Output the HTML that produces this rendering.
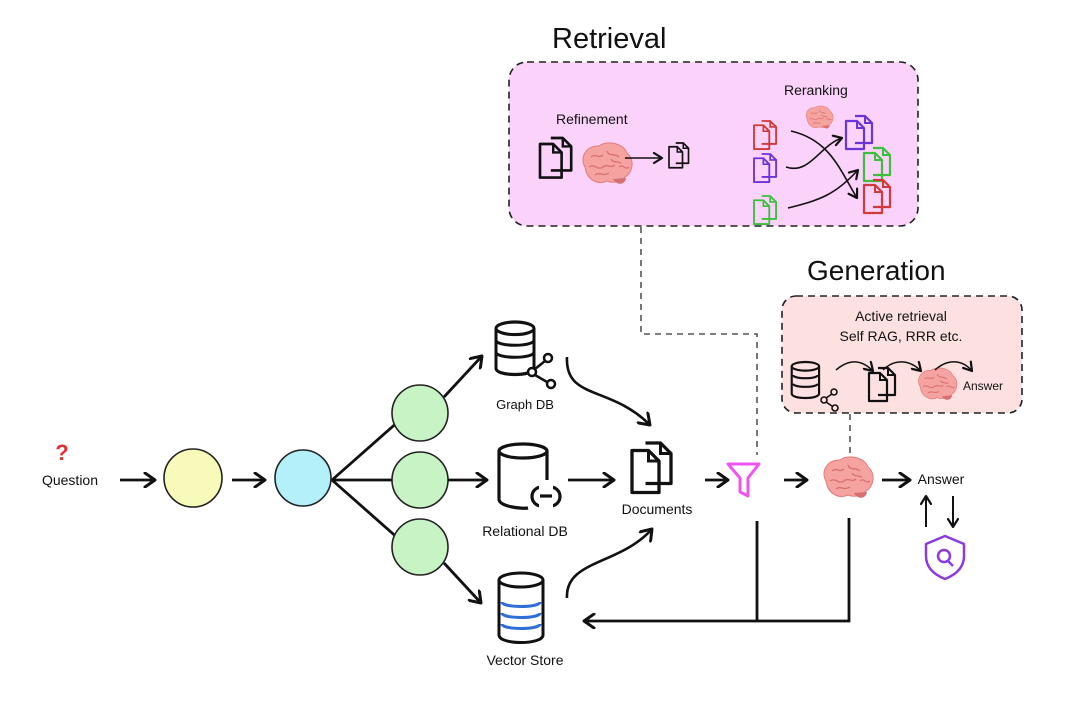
<!DOCTYPE html>
<html><head><meta charset="utf-8"><style>
html,body{margin:0;padding:0;background:#fff;}
svg{display:block;}
text{font-family:"Liberation Sans","DejaVu Sans",sans-serif;fill:#111;}
</style></head><body>
<svg width="1080" height="710" viewBox="0 0 1080 710" xmlns="http://www.w3.org/2000/svg">
<defs>
  <marker id="ah" viewBox="0 0 12 12" refX="10" refY="6" markerWidth="12" markerHeight="12" markerUnits="userSpaceOnUse" orient="auto">
    <path d="M2,1 L10,6 L2,11" fill="none" stroke="#111" stroke-width="2.2" stroke-linecap="round" stroke-linejoin="round"/>
  </marker>
  <marker id="ahb" viewBox="0 0 16 16" refX="13" refY="8" markerWidth="16" markerHeight="16" markerUnits="userSpaceOnUse" orient="auto">
    <path d="M3,1 L13,8 L3,15" fill="none" stroke="#111" stroke-width="3" stroke-linecap="round" stroke-linejoin="round"/>
  </marker>
  <g id="docs">
    <path d="M9,0 H19 L26,7 V27 H9" fill="none" stroke="currentColor" stroke-width="2.2" stroke-linejoin="round"/>
    <path d="M19,0 V7 H26" fill="none" stroke="currentColor" stroke-width="2"/>
    <path d="M0,5 H11 L18,12 V33 H0 Z" fill="none" stroke="currentColor" stroke-width="2.2" stroke-linejoin="round"/>
    <path d="M11,5 V12 H18" fill="none" stroke="currentColor" stroke-width="2"/>
  </g>
  <g id="brain">
    <path d="M4,24 C-2,14 6,2 18,3 C26,-3 42,0 46,10 C54,16 52,30 44,34 C40,40 30,40 26,38 C18,42 6,38 4,24 Z" fill="#f5a3a1" stroke="#e07d7b" stroke-width="1"/>
    <path d="M32,36 C36,43 44,42 45,35" fill="#d76f6e"/>
    <path d="M10,14 C14,10 18,16 22,12 M8,24 C14,20 16,28 22,24 C26,20 30,26 34,22 M26,8 C28,14 34,10 38,14 M14,32 C18,28 22,34 28,30 M38,24 C42,20 44,28 48,24 M30,16 C32,20 36,18 40,20" fill="none" stroke="#d8706f" stroke-width="1.3"/>
  </g>
  <g id="db">
    <ellipse cx="20" cy="6" rx="19" ry="6" fill="none" stroke="#111" stroke-width="3"/>
    <path d="M1,6 V44 C1,52 39,52 39,44 V6" fill="none" stroke="#111" stroke-width="3"/>
  </g>
</defs>

<!-- Retrieval -->
<text x="552" y="48" font-size="29">Retrieval</text>
<rect x="509" y="62" width="409" height="164" rx="18" fill="#fbd2f9" stroke="#222" stroke-width="1.6" stroke-dasharray="7,5"/>
<text x="556" y="124" font-size="14">Refinement</text>
<use href="#docs" x="540" y="138" color="#111" transform="translate(540,138) scale(1.2) translate(-540,-138)"/>
<use href="#brain" x="581" y="143"/>
<line x1="625" y1="158" x2="662" y2="158" stroke="#111" stroke-width="1.6" marker-end="url(#ah)"/>
<use href="#docs" x="669" y="143" color="#111" transform="translate(669,143) scale(0.75) translate(-669,-143)"/>
<text x="784" y="95" font-size="14">Reranking</text>
<use href="#brain" x="805" y="106" transform="translate(805,106) scale(0.55) translate(-805,-106)"/>
<use href="#docs" x="754" y="121" color="#d23a3a" transform="translate(754,121) scale(0.85) translate(-754,-121)"/>
<use href="#docs" x="754" y="154" color="#6a35d8" transform="translate(754,154) scale(0.85) translate(-754,-154)"/>
<use href="#docs" x="754" y="196" color="#3cbf3c" transform="translate(754,196) scale(0.85) translate(-754,-196)"/>
<use href="#docs" x="846" y="116" color="#6a35d8"/>
<use href="#docs" x="864" y="148" color="#3cbf3c"/>
<use href="#docs" x="864" y="180" color="#d23a3a"/>
<path d="M791,131 C830,140 840,170 857,198" fill="none" stroke="#111" stroke-width="1.6" marker-end="url(#ah)"/>
<path d="M786,167 C810,175 820,145 842,138" fill="none" stroke="#111" stroke-width="1.6" marker-end="url(#ah)"/>
<path d="M788,208 C820,200 835,195 858,170" fill="none" stroke="#111" stroke-width="1.6" marker-end="url(#ah)"/>

<!-- Generation -->
<text x="807" y="280" font-size="28">Generation</text>
<rect x="782" y="296" width="240" height="117" rx="14" fill="#fde1e1" stroke="#222" stroke-width="1.6" stroke-dasharray="7,5"/>
<text x="901" y="321" font-size="14" text-anchor="middle">Active retrieval</text>
<text x="901" y="341" font-size="14" text-anchor="middle">Self RAG, RRR etc.</text>
<g transform="translate(791,362) scale(0.72)">
  <use href="#db"/>
  <path d="M3,18 C3,24 37,24 37,18 M3,30 C3,36 37,36 37,30" fill="none" stroke="#111" stroke-width="3"/>
</g>
<circle cx="834" cy="392" r="3" fill="none" stroke="#111" stroke-width="1.6"/>
<circle cx="824" cy="400" r="3" fill="none" stroke="#111" stroke-width="1.6"/>
<circle cx="835" cy="408" r="3" fill="none" stroke="#111" stroke-width="1.6"/>
<path d="M832,394 L826,398 M826,402 L832,406" stroke="#111" stroke-width="1.6"/>
<use href="#docs" x="869" y="368" color="#111"/>
<use href="#brain" x="917" y="368" transform="translate(917,368) scale(0.78) translate(-917,-368)"/>
<text x="963" y="390" font-size="12">Answer</text>
<path d="M836,370 C850,358 862,360 873,371" fill="none" stroke="#111" stroke-width="1.5" marker-end="url(#ah)"/>
<path d="M883,370 C895,358 910,360 921,371" fill="none" stroke="#111" stroke-width="1.5" marker-end="url(#ah)"/>
<path d="M935,370 C948,358 963,360 972,371" fill="none" stroke="#111" stroke-width="1.5" marker-end="url(#ah)"/>

<!-- dashed connectors -->
<path d="M641,227 V334 H757 V455" fill="none" stroke="#555" stroke-width="1.6" stroke-dasharray="6,5"/>
<path d="M850,414 V458" fill="none" stroke="#555" stroke-width="1.6" stroke-dasharray="6,5"/>

<!-- Question -->
<text x="62" y="460" font-size="22" font-weight="bold" style="fill:#d33" text-anchor="middle">?</text>
<text x="70" y="485" font-size="14" text-anchor="middle">Question</text>
<line x1="120" y1="480" x2="155" y2="480" stroke="#111" stroke-width="2.8" marker-end="url(#ahb)"/>
<circle cx="193" cy="478" r="29" fill="#f7fab8" stroke="#222" stroke-width="1.6"/>
<line x1="232" y1="480" x2="265" y2="480" stroke="#111" stroke-width="2.8" marker-end="url(#ahb)"/>
<circle cx="303" cy="478" r="28" fill="#b3f0fa" stroke="#222" stroke-width="1.6"/>
<path d="M332,480 L400,420 M332,480 L392,480 M332,480 L400,540" stroke="#111" stroke-width="2.8"/>
<circle cx="420" cy="413" r="28" fill="#c8f3c5" stroke="#222" stroke-width="1.6"/>
<circle cx="420" cy="480" r="28" fill="#c8f3c5" stroke="#222" stroke-width="1.6"/>
<circle cx="420" cy="547" r="28" fill="#c8f3c5" stroke="#222" stroke-width="1.6"/>
<line x1="444" y1="397" x2="482" y2="356" stroke="#111" stroke-width="2.8" marker-end="url(#ahb)"/>
<line x1="448" y1="480" x2="487" y2="480" stroke="#111" stroke-width="2.8" marker-end="url(#ahb)"/>
<line x1="444" y1="563" x2="481" y2="603" stroke="#111" stroke-width="2.8" marker-end="url(#ahb)"/>

<!-- Graph DB -->
<g transform="translate(495,322)">
  <use href="#db" transform="scale(1,1.05)"/>
  <path d="M1,18 C1,25 39,25 39,18 M1,30 C1,37 39,37 39,30" fill="none" stroke="#111" stroke-width="3"/>
</g>
<circle cx="548" cy="358" r="4" fill="#fff" stroke="#111" stroke-width="2.5"/>
<circle cx="532" cy="372" r="4" fill="#fff" stroke="#111" stroke-width="2.5"/>
<circle cx="551" cy="384" r="4" fill="#fff" stroke="#111" stroke-width="2.5"/>
<path d="M545,361 L535,369 M535,375 L547,382" stroke="#111" stroke-width="2.5"/>
<text x="525" y="409" font-size="13" text-anchor="middle">Graph DB</text>

<!-- Relational DB -->
<g transform="translate(498,444)">
  <ellipse cx="25" cy="7" rx="24" ry="7" fill="none" stroke="#111" stroke-width="3.2"/>
  <path d="M1,7 V55 C1,63 25,65 30,64 M49,7 V36" fill="none" stroke="#111" stroke-width="3.2"/>
  <rect x="34" y="43" width="28" height="19" rx="9.5" fill="none" stroke="#111" stroke-width="3.2"/>
  <path d="M42,52 H54" stroke="#111" stroke-width="3.2"/>
  <rect x="41" y="40" width="14" height="6" fill="#fff"/>
  <rect x="41" y="59" width="14" height="6" fill="#fff"/>
</g>
<text x="525" y="536" font-size="14" text-anchor="middle">Relational DB</text>

<!-- Vector store -->
<g transform="translate(498,573)">
  <ellipse cx="23" cy="7" rx="22" ry="7" fill="none" stroke="#111" stroke-width="3"/>
  <path d="M1,7 V62 C1,72 45,72 45,62 V7" fill="none" stroke="#111" stroke-width="3"/>
  <path d="M4,29 C4,35 42,35 42,29 M4,40 C4,46 42,46 42,40 M4,51 C4,57 42,57 42,51" fill="none" stroke="#2f6fd6" stroke-width="3"/>
</g>
<text x="525" y="665" font-size="14" text-anchor="middle">Vector Store</text>

<!-- to documents -->
<path d="M567,357 C565,400 610,385 650,425" fill="none" stroke="#111" stroke-width="2.6" marker-end="url(#ahb)"/>
<line x1="568" y1="480" x2="614" y2="480" stroke="#111" stroke-width="2.8" marker-end="url(#ahb)"/>
<path d="M567,598 C565,560 620,565 652,529" fill="none" stroke="#111" stroke-width="2.6" marker-end="url(#ahb)"/>
<use href="#docs" x="632" y="443" color="#111" transform="translate(632,443) scale(1.5) translate(-632,-443)"/>
<text x="657" y="514" font-size="14" text-anchor="middle">Documents</text>
<line x1="705" y1="480" x2="728" y2="480" stroke="#111" stroke-width="2.8" marker-end="url(#ahb)"/>
<path d="M728,464 H759 L748,478 V496 L740,492 V478 Z" fill="none" stroke="#ee55ee" stroke-width="3" stroke-linejoin="round"/>
<line x1="784" y1="480" x2="807" y2="480" stroke="#111" stroke-width="2.8" marker-end="url(#ahb)"/>
<use href="#brain" x="822" y="457"/>
<line x1="882" y1="480" x2="910" y2="480" stroke="#111" stroke-width="2.8" marker-end="url(#ahb)"/>
<text x="941" y="484" font-size="14" text-anchor="middle">Answer</text>
<line x1="926" y1="527" x2="926" y2="496" stroke="#111" stroke-width="2" marker-end="url(#ah)"/>
<line x1="953" y1="496" x2="953" y2="527" stroke="#111" stroke-width="2" marker-end="url(#ah)"/>
<path d="M945,536 L964,544 V556 C964,568 955,575 945,579 C935,575 926,568 926,556 V544 Z" fill="none" stroke="#8a3be0" stroke-width="2.5" stroke-linejoin="round"/>
<circle cx="944" cy="556" r="6" fill="none" stroke="#8a3be0" stroke-width="2.5"/>
<line x1="948" y1="561" x2="953" y2="566" stroke="#8a3be0" stroke-width="2.5"/>

<!-- feedback -->
<path d="M757,521 V621 M849,518 V621 H584" fill="none" stroke="#111" stroke-width="2.8" marker-end="url(#ahb)"/>
</svg>
</body></html>
